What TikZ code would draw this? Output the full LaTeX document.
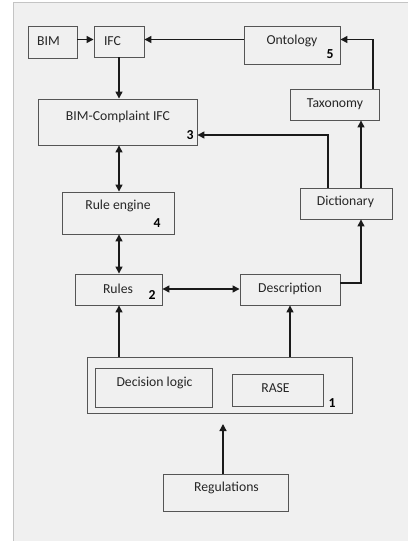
\documentclass[tikz,border=0pt]{standalone}
\usepackage{fontspec}
\setmainfont{Carlito}
\usetikzlibrary{arrows.meta,calc}
\definecolor{panel}{HTML}{F0F0F0}
\definecolor{panelrule}{HTML}{C4C4C4}
\definecolor{boxrule}{HTML}{555555}
\definecolor{arrowc}{HTML}{1A1A1A}
\tikzset{
  box/.style={draw=boxrule, line width=0.9pt, fill=none, inner sep=0pt, rectangle},
  lbl/.style={inner sep=0pt, font=\fontsize{13.7}{16}\selectfont, text=black!85},
  num/.style={inner sep=0pt, font=\fontsize{13.7}{16}\selectfont\bfseries, text=black},
  arr/.style={draw=arrowc, line width=1.4pt, -{Triangle[length=7pt,width=7pt]}},
  darr/.style={draw=arrowc, line width=1.4pt, {Triangle[length=7pt,width=7pt]}-{Triangle[length=7pt,width=7pt]}},
  ln/.style={draw=arrowc, line width=1.4pt}
}
\begin{document}
\begin{tikzpicture}[x=1pt,y=-1pt]
\useasboundingbox (0,0) rectangle (408,541);
\fill[white] (0,0) rectangle (408,541);
\fill[panel] (13,2) rectangle (408,541);
\draw[panelrule, line width=0.8pt] (13,541) -- (13,2) -- (408,2);

% boxes
\node[box, minimum width=49pt, minimum height=32pt] (bim) at (52.5,42) {};
\node[box, minimum width=50pt, minimum height=31pt] (ifc) at (119,41.5) {};
\node[box, minimum width=96pt, minimum height=38pt] (ont) at (292,45) {};
\node[box, minimum width=89pt, minimum height=31pt] (tax) at (334.5,104.5) {};
\node[box, minimum width=159pt, minimum height=46pt] (bc) at (117.5,122) {};
\node[box, minimum width=112pt, minimum height=42pt] (re) at (118,213) {};
\node[box, minimum width=92pt, minimum height=31pt] (dic) at (346,203.5) {};
\node[box, minimum width=87pt, minimum height=31pt] (rules) at (118.5,289.5) {};
\node[box, minimum width=100pt, minimum height=31pt] (desc) at (290,289.5) {};
\node[box, minimum width=265pt, minimum height=56pt] (outer) at (219.5,385) {};
\node[box, minimum width=117pt, minimum height=39pt] (dl) at (153.5,387.5) {};
\node[box, minimum width=91pt, minimum height=32pt] (rase) at (277.5,390) {};
\node[box, minimum width=125pt, minimum height=37pt] (reg) at (225.5,492.5) {};

% texts
\node[lbl] (tbim) at (48.5,41) {BIM};
\node[lbl] (tifc) at (112.5,41) {IFC};
\node[lbl] (tont) at (292,41) {Ontology};
\node[num] (n5) at (330,54) {5};
\node[lbl] (ttax) at (335,104) {Taxonomy};
\node[lbl] (tbc) at (118,117) {BIM-Complaint IFC};
\node[num] (n3) at (190,135) {3};
\node[lbl] (tre) at (118,206) {Rule engine};
\node[num] (n4) at (157,223) {4};
\node[lbl] (tdic) at (345.5,202) {Dictionary};
\node[lbl] (trules) at (118,289) {Rules};
\node[num] (n2) at (152,295) {2};
\node[lbl] (tdesc) at (290,289) {Description};
\node[lbl] (tdl) at (154.5,383) {Decision logic};
\node[lbl] (trase) at (275.5,388) {RASE};
\node[num] (n1) at (332,403) {1};
\node[lbl] (treg) at (226.5,488) {Regulations};

% helper coordinates
\coordinate (row1) at (0,39.5);
\coordinate (colA) at (119,0);
\coordinate (colT) at (373,0);
\coordinate (colD) at (328,0);
\coordinate (colE) at (361,0);
\coordinate (rowBC) at (0,135);
\coordinate (rowDesc) at (0,283);
\coordinate (rowRD) at (0,289);
\coordinate (colR) at (223,0);
\coordinate (regtip) at (223,424);

% connectors
\draw[arr] (bim.east |- row1) -- (ifc.west |- row1);
\draw[arr] (ont.west |- row1) -- (ifc.east |- row1);
\draw[arr] (tax.north -| colT) |- (ont.east |- row1);
\draw[arr] (ifc.south -| colA) -- (bc.north -| colA);
\draw[darr] (bc.south -| colA) -- (re.north -| colA);
\draw[darr] (re.south -| colA) -- (rules.north -| colA);
\draw[arr] (dic.north -| colD) |- (bc.east |- rowBC);
\draw[arr] (dic.north -| colE) -- (tax.south -| colE);
\draw[arr] (desc.east |- rowDesc) -| (dic.south -| colE);
\draw[darr] (rules.east |- rowRD) -- (desc.west |- rowRD);
\draw[arr] (outer.north -| colA) -- (rules.south -| colA);
\draw[arr] (outer.north -| desc.south) -- (desc.south);
\draw[arr] (reg.north -| colR) -- (regtip);
\end{tikzpicture}
\end{document}
